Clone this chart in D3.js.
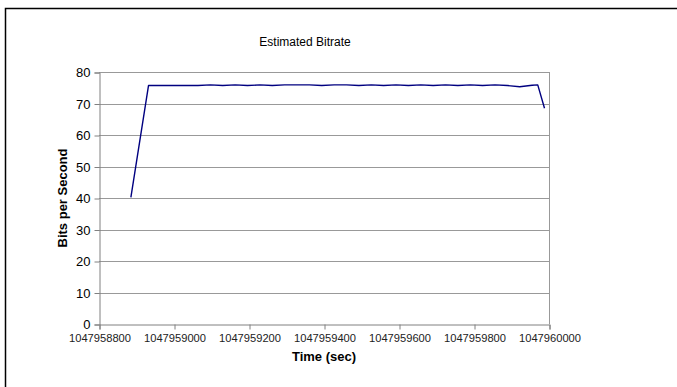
<!DOCTYPE html>
<html>
<head>
<meta charset="utf-8">
<script src="https://cdn.jsdelivr.net/npm/d3@7"></script>
<style>
  html, body { margin: 0; padding: 0; background: #fff; }
  svg { display: block; font-family: "Liberation Sans", Arial, sans-serif; }
</style>
</head>
<body>
<svg id="chart" width="677" height="387"></svg>
<script>
// ---- data ----
const times = [1047958885, 1047958932, 1047958965, 1047958998, 1047959031, 1047959064,
  1047959097, 1047959130, 1047959163, 1047959196, 1047959229, 1047959262, 1047959295,
  1047959328, 1047959361, 1047959394, 1047959427, 1047959460, 1047959493, 1047959526,
  1047959559, 1047959592, 1047959625, 1047959658, 1047959691, 1047959724, 1047959757,
  1047959790, 1047959823, 1047959856, 1047959889, 1047959922, 1047959955, 1047959970,
  1047959988];
const bitrates = [40.2, 75.7, 75.7, 75.7, 75.7, 75.7,
  75.9, 75.7, 75.9, 75.7, 75.9, 75.7, 75.9,
  75.9, 75.9, 75.7, 75.9, 75.9, 75.7, 75.9,
  75.7, 75.9, 75.7, 75.9, 75.7, 75.9, 75.7,
  75.9, 75.7, 75.9, 75.7, 75.3, 75.8, 75.9,
  68.5];
const xTicks = [1047958800, 1047959000, 1047959200, 1047959400, 1047959600, 1047959800, 1047960000];
const yTicks = [0, 10, 20, 30, 40, 50, 60, 70, 80];
const title = "Estimated Bitrate";
const xTitle = "Time (sec)";
const yTitle = "Bits per Second";

const svg = d3.select("#chart");
const plot = {left: 99, right: 549, top: 72, bottom: 324};

// outer chart border (cropped at right/bottom)
svg.append("rect").attr("x", 5.5).attr("y", 8.5).attr("width", 700).attr("height", 420)
  .attr("fill", "#fff").attr("stroke", "#000").attr("stroke-width", 1.5);

const x = d3.scaleLinear().domain([1047958800, 1047960000]).range([plot.left, plot.right]);
const y = d3.scaleLinear().domain([0, 80]).range([plot.bottom, plot.top]);

// gridlines
svg.append("g").selectAll("line").data(yTicks.filter(d => d > 0)).join("line")
  .attr("x1", plot.left).attr("x2", plot.right)
  .attr("y1", d => Math.round(y(d)) + 0.5).attr("y2", d => Math.round(y(d)) + 0.5)
  .attr("stroke", "#999").attr("stroke-width", 1);
// right border of plot area
svg.append("line").attr("x1", plot.right + 0.5).attr("x2", plot.right + 0.5)
  .attr("y1", plot.top).attr("y2", plot.bottom).attr("stroke", "#999");

// y axis
const yAxis = d3.axisLeft(y).tickValues(yTicks).tickSize(5).tickPadding(4).tickFormat(d3.format("d"));
const gy = svg.append("g").attr("transform", `translate(${plot.left + 0.5},0.5)`).call(yAxis);
gy.select(".domain").attr("stroke", "#808080");
gy.selectAll(".tick line").attr("stroke", "#808080");
gy.selectAll(".tick text").attr("font-size", 13).attr("fill", "#000")
  .attr("font-family", "'Liberation Sans', Arial, sans-serif");

// x axis
const xAxis = d3.axisBottom(x).tickValues(xTicks).tickSize(5).tickPadding(5).tickFormat(d3.format("d"));
const gx = svg.append("g").attr("transform", `translate(0.5,${plot.bottom + 0.5})`).call(xAxis);
gx.select(".domain").attr("stroke", "#808080");
gx.selectAll(".tick line").attr("stroke", "#808080");
gx.selectAll(".tick text").attr("font-size", 10).attr("fill", "#222")
  .attr("font-family", "'Liberation Sans', Arial, sans-serif")
  .attr("textLength", 62).attr("lengthAdjust", "spacingAndGlyphs");

// line
const data = times.map((t, i) => ({t, v: bitrates[i]}));
svg.append("path").datum(data)
  .attr("fill", "none").attr("stroke", "#000080").attr("stroke-width", 1.4)
  .attr("stroke-linejoin", "round")
  .attr("d", d3.line().x(d => x(d.t)).y(d => y(d.v)));

// titles
svg.append("text").attr("x", 305).attr("y", 46).attr("text-anchor", "middle")
  .attr("font-size", 12).attr("fill", "#000").text(title);
svg.append("text").attr("x", 324).attr("y", 361).attr("text-anchor", "middle")
  .attr("font-size", 13).attr("font-weight", "bold").attr("fill", "#000").text(xTitle);
svg.append("text").attr("transform", `translate(67,198) rotate(-90)`).attr("text-anchor", "middle")
  .attr("font-size", 13).attr("font-weight", "bold").attr("fill", "#000").text(yTitle);
</script>
</body>
</html>
